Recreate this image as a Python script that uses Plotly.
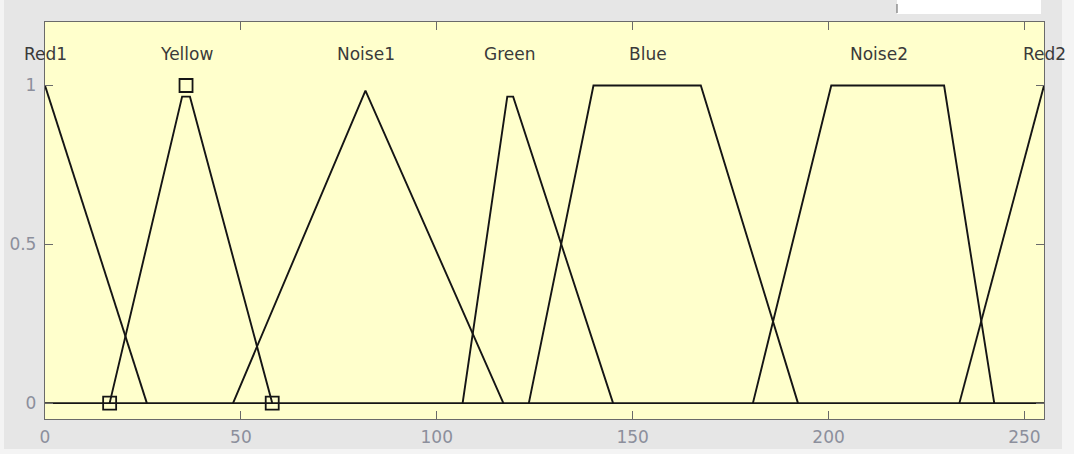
import plotly.graph_objects as go

# Membership functions (vertices)
mf_names = ["Red1", "Yellow", "Noise1", "Green", "Blue", "Noise2", "Red2"]
red1_x = [0, 26]
red1_y = [1, 0]
yellow_x = [16.5, 35, 37, 58]
yellow_y = [0, 0.965, 0.965, 0]
noise1_x = [48, 81.8, 117]
noise1_y = [0, 0.984, 0]
green_x = [106.6, 118, 119.5, 145]
green_y = [0, 0.965, 0.965, 0]
blue_x = [123.5, 140, 167.4, 192.2]
blue_y = [0, 1, 1, 0]
noise2_x = [180.7, 200.7, 229.5, 242.3]
noise2_y = [0, 1, 1, 0]
red2_x = [233.4, 255]
red2_y = [0, 1]
# label positions (centre of each MF's maximum)
label_x = [0, 36, 82, 118.5, 154, 213, 255]
label_y = 1.1
# selected MF vertex markers (Yellow)
sel_x = [16.5, 36, 58]
sel_y = [0, 1, 0]
# baseline zero line
base_x = [0, 255]
base_y = [0, 0]

x_ticks = [0, 50, 100, 150, 200, 250]
y_ticks = [0, 0.5, 1]
y_ticktext = ["0", "0.5", "1"]

curves = [(red1_x, red1_y), (yellow_x, yellow_y), (noise1_x, noise1_y),
          (green_x, green_y), (blue_x, blue_y), (noise2_x, noise2_y),
          (red2_x, red2_y)]

fig = go.Figure()
line_style = dict(color="#151515", width=1.9)
fig.add_trace(go.Scatter(x=base_x, y=base_y, mode="lines", line=line_style,
                         showlegend=False, hoverinfo="skip"))
for name, (xs, ys) in zip(mf_names, curves):
    fig.add_trace(go.Scatter(x=xs, y=ys, mode="lines", line=line_style,
                             name=name, showlegend=False))
fig.add_trace(go.Scatter(x=sel_x, y=sel_y, mode="markers",
                         marker=dict(symbol="square-open", size=13,
                                     color="#151515", line=dict(width=1.8)),
                         showlegend=False, cliponaxis=False))

for name, lx in zip(mf_names, label_x):
    fig.add_annotation(x=lx, y=label_y, text=name, showarrow=False,
                       xanchor="center", yanchor="middle",
                       font=dict(family="DejaVu Sans", size=17,
                                 color="#3a3a3a"))

axis_common = dict(showline=True, linecolor="#6a6a6a", linewidth=1.3,
                   mirror="ticks", ticks="inside", ticklen=8,
                   tickcolor="#6a6a6a", tickwidth=1.2, showgrid=False,
                   zeroline=False, automargin=False,
                   tickfont=dict(family="DejaVu Sans", size=17,
                                 color="#8c8f9c"))

fig.update_xaxes(range=[0, 255], tickvals=x_ticks, ticklabelstandoff=2,
                 **axis_common)
fig.update_yaxes(range=[-0.05, 1.2], tickvals=y_ticks, ticktext=y_ticktext,
                 ticklabelstandoff=4, **axis_common)

# white strips around the grey figure window (screenshot edges)
shapes = [
    dict(type="rect", xref="paper", yref="paper", x0=(897 - 45) / 999,
         x1=(1041 - 45) / 999, y0=(419 - 14) / 397, y1=(419 + 2) / 397,
         fillcolor="#ffffff", line=dict(width=0), layer="above"),
    dict(type="rect", xref="paper", yref="paper", x0=(1062 - 45) / 999,
         x1=(1080 - 45) / 999, y0=-1, y1=2,
         fillcolor="#f4f4f4", line=dict(width=0), layer="below"),
    dict(type="rect", xref="paper", yref="paper", x0=-1,
         x1=(4 - 45) / 999, y0=-1, y1=2,
         fillcolor="#f4f4f4", line=dict(width=0), layer="below"),
    dict(type="rect", xref="paper", yref="paper", x0=-1, x1=2,
         y0=(419 - 460) / 397, y1=(419 - 449) / 397,
         fillcolor="#f4f4f4", line=dict(width=0), layer="below"),
    dict(type="line", xref="paper", yref="paper", x0=(897 - 45) / 999,
         x1=(897 - 45) / 999, y0=(419 - 4) / 397, y1=(419 - 13) / 397,
         line=dict(color="#777777", width=1.2)),
]
fig.update_layout(shapes=shapes)

fig.update_layout(
    width=1074, height=454,
    margin=dict(l=45, r=30, t=22, b=35),
    paper_bgcolor="#e6e6e6",
    plot_bgcolor="#ffffcc",
    showlegend=False,
)

fig.write_html("out.html", config={"displayModeBar": False},
               post_script="document.body.style.margin='0';")
